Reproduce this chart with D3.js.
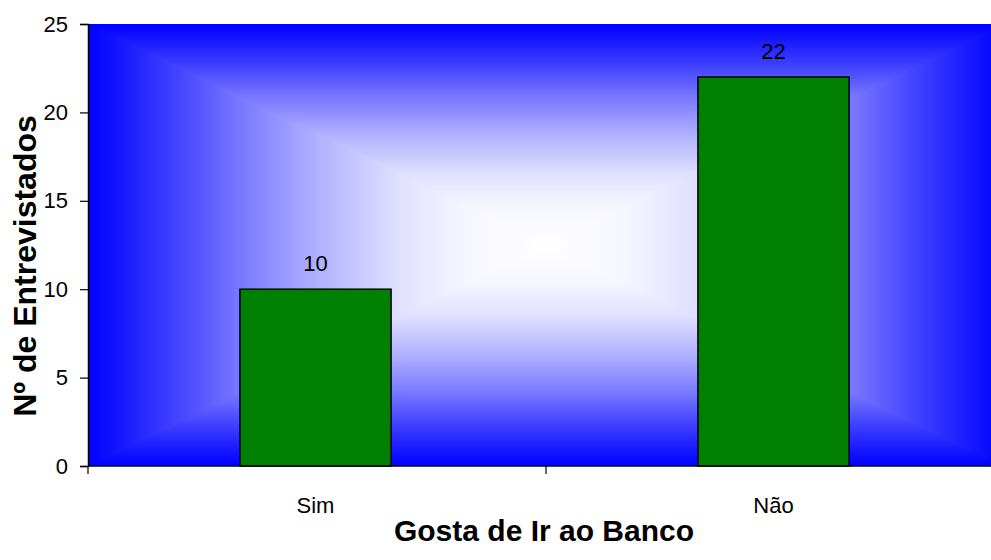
<!DOCTYPE html>
<html>
<head>
<meta charset="utf-8">
<script src="https://cdn.jsdelivr.net/npm/d3@7"></script>
<style>
  body { margin: 0; background: #fff; }
  text { font-family: "Liberation Sans", Arial, sans-serif; fill: #000; }
</style>
</head>
<body>
<svg id="chart" width="991" height="560"></svg>
<script>
// Survey answers: "Gosta de Ir ao Banco"
const categories = ["Sim", "Não"];
const counts = [10, 22];
const yTickValues = [0, 5, 10, 15, 20, 25];
const xAxisTitle = "Gosta de Ir ao Banco";
const yAxisTitle = "Nº de Entrevistados";

const svg = d3.select("#chart");

// Plot area (runs a little past the right edge of the canvas)
const plot = { left: 88, top: 24, right: 1004, bottom: 466 };
const cx = (plot.left + plot.right) / 2;
const cy = (plot.top + plot.bottom) / 2;

const x = d3.scaleBand().domain(categories).range([plot.left, plot.right]).padding(0);
const y = d3.scaleLinear().domain([0, 25]).range([plot.bottom, plot.top]);

// Rectangular "from centre" gradient: blue rim fading to white in the middle
const stops = [
  [0, "#0000ff"], [0.08, "#1a1aff"], [0.2, "#4545ff"], [0.32, "#7474ff"],
  [0.5, "#b0b0ff"], [0.68, "#e0e0ff"], [0.82, "#f5f5ff"], [1, "#ffffff"]
];
const defs = svg.append("defs");
function grad(id, x1, y1, x2, y2, mirrored) {
  const g = defs.append("linearGradient").attr("id", id)
    .attr("gradientUnits", "userSpaceOnUse")
    .attr("x1", x1).attr("y1", y1).attr("x2", x2).attr("y2", y2);
  const list = mirrored
    ? stops.map(s => [s[0] / 2, s[1]]).concat(stops.slice().reverse().map(s => [1 - s[0] / 2, s[1]]))
    : stops;
  list.forEach(s => g.append("stop").attr("offset", s[0]).attr("stop-color", s[1]));
}
const L = plot.left, R = plot.right, T = plot.top, B = plot.bottom;
grad("gVert", cx, T, cx, B, true);
grad("gLeft", L, cy, cx, cy, false);
grad("gRight", R, cy, cx, cy, false);

const bg = svg.append("g");
// vertical fade covers the whole area (top and bottom wedges)
bg.append("rect").attr("x", L).attr("y", T).attr("width", R - L).attr("height", B - T)
  .attr("fill", "url(#gVert)");
// left and right wedges fade horizontally
[["gLeft", [[L, T], [L, B], [cx, cy]]], ["gRight", [[R, T], [R, B], [cx, cy]]]]
  .forEach(([id, pts]) => {
    bg.append("path")
      .attr("d", "M" + pts.map(p => p.join(",")).join("L") + "Z")
      .attr("fill", `url(#${id})`);
  });

// Bars
const barW = x.bandwidth() * 0.33;
svg.append("g").selectAll("rect").data(categories).join("rect")
  .attr("x", (d) => x(d) + (x.bandwidth() - barW) / 2 - 1.5)
  .attr("y", (d, i) => y(counts[i]))
  .attr("width", barW)
  .attr("height", (d, i) => y(0) - y(counts[i]))
  .attr("fill", "#008000")
  .attr("stroke", "#000").attr("stroke-width", 1.5);

// Value labels
svg.append("g").selectAll("text").data(categories).join("text")
  .attr("x", (d) => x(d) + x.bandwidth() / 2 - 1.5)
  .attr("y", (d, i) => y(counts[i]) - 18)
  .attr("text-anchor", "middle")
  .style("font-size", "22px")
  .text((d, i) => counts[i]);

// Y axis
const yAxis = svg.append("g").attr("transform", `translate(${plot.left},0)`)
  .call(d3.axisLeft(y).tickValues(yTickValues).tickSize(8).tickPadding(12));
yAxis.selectAll("text").style("font-size", "22px");
yAxis.select(".domain").attr("stroke-width", 1.5);
yAxis.selectAll(".tick line").attr("stroke-width", 1.2);

// X axis with ticks between categories
const xAxis = svg.append("g").attr("transform", `translate(0,${plot.bottom})`);
xAxis.append("line").attr("x1", plot.left).attr("x2", plot.right)
  .attr("y1", 0).attr("y2", 0).attr("stroke", "#000").attr("stroke-width", 1.5);
const edges = [plot.left, ...categories.slice(1).map(c => x(c)), plot.right];
xAxis.selectAll("line.tick").data(edges).join("line").attr("class", "tick")
  .attr("x1", d => d).attr("x2", d => d).attr("y1", 0).attr("y2", 8)
  .attr("stroke", "#000").attr("stroke-width", 1.2);
xAxis.selectAll("text").data(categories).join("text")
  .attr("x", d => x(d) + x.bandwidth() / 2 - 1.5)
  .attr("y", 47)
  .attr("text-anchor", "middle")
  .style("font-size", "22px")
  .text(d => d);

// Axis titles
svg.append("text")
  .attr("x", cx - 2).attr("y", 541)
  .attr("text-anchor", "middle")
  .style("font-size", "30px").style("font-weight", "bold")
  .text(xAxisTitle);
svg.append("text")
  .attr("transform", `translate(36,${266}) rotate(-90)`)
  .attr("text-anchor", "middle")
  .style("font-size", "32px").style("font-weight", "bold")
  .text(yAxisTitle);
</script>
</body>
</html>
